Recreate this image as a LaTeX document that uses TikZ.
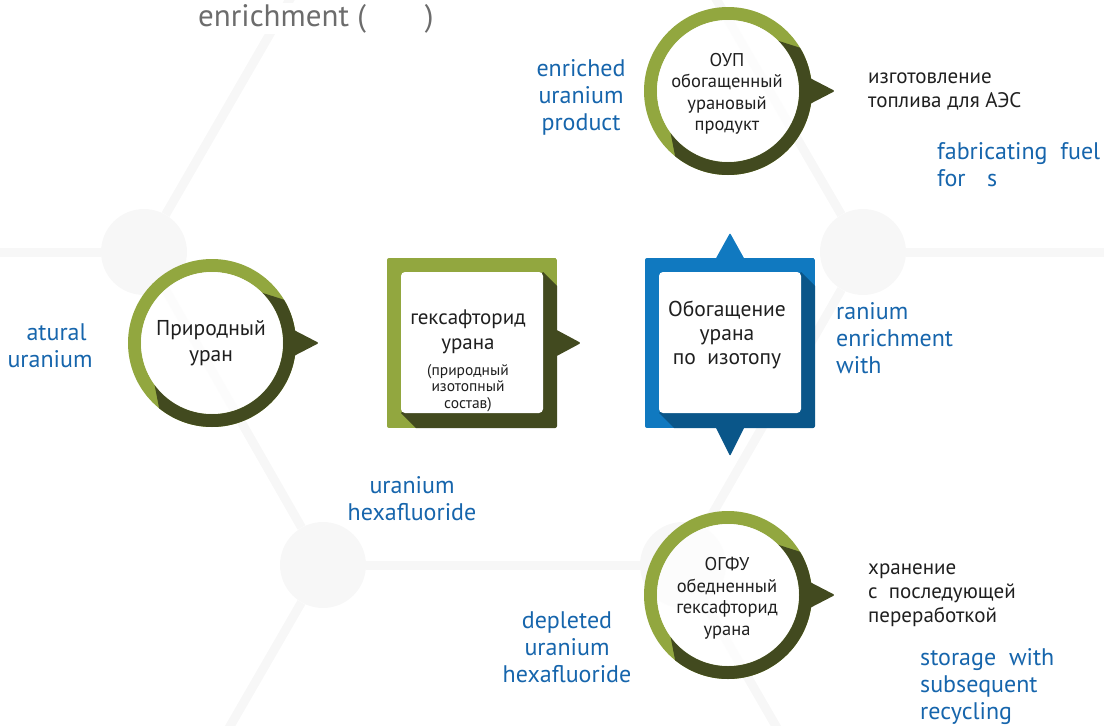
\documentclass[tikz,border=0pt]{standalone}
\usepackage{fontspec}
\setmainfont{PT Sans}
\usepackage{xcolor}
\usepackage{tikz}
\usetikzlibrary{positioning,calc}
\definecolor{lolv}{RGB}{146,167,63}
\definecolor{dolv}{RGB}{66,74,31}
\definecolor{lblu}{RGB}{16,121,192}
\definecolor{dblu}{RGB}{10,86,137}
\definecolor{tblu}{RGB}{22,101,172}
\definecolor{bgry}{RGB}{247,247,247}
\definecolor{tgry}{RGB}{108,108,108}

\begin{document}
\begin{tikzpicture}[x=1pt, y=-1pt, line join=bevel,
  hexline/.style={bgry, line width=9pt},
  hexdot/.style={circle, fill=bgry, minimum size=86pt, inner sep=0pt},
  ringtext/.style={align=center, inner sep=0pt, text=black!88, font=\fontsize{21.5}{26}\selectfont},
  smalltext/.style={align=center, inner sep=0pt, text=black!88, font=\fontsize{18.5}{21.5}\selectfont},
  sidetext/.style={align=left, inner sep=0pt, anchor=west, text=black!88, font=\fontsize{21}{24}\selectfont},
  engtext/.style={align=center, inner sep=0pt, text=tblu, font=\fontsize{24}{27}\selectfont}]

\useasboundingbox (0,0) rectangle (1104,726);
\clip (0,0) rectangle (1104,726);

%% background hexagon grid
\node[hexdot] (hxa) at (144,252) {};
\node[hexdot] (hxb) at (323,565) {};
\node[hexdot] (hxc) at (683,565) {};
\node[hexdot] (hxd) at (863,252) {};
\coordinate (hxaw) at (-20,252);
\coordinate (hxan) at (323,-58);
\coordinate (hxbs) at (143,877);
\coordinate (hxcs) at (863,877);
\coordinate (hxdn) at (683,-58);
\coordinate (hxde) at (1130,252);
\draw[hexline] (hxaw) -- (hxa);
\draw[hexline] (hxa) -- (hxan);
\draw[hexline] (hxa) -- (hxb);
\draw[hexline] (hxb) -- (hxbs);
\draw[hexline] (hxb) -- (hxc);
\draw[hexline] (hxc) -- (hxcs);
\draw[hexline] (hxc) -- (hxd);
\draw[hexline] (hxd) -- (hxdn);
\draw[hexline] (hxd) -- (hxde);

%% title at the top
\node[fill=white, inner sep=1pt, anchor=base west, text=tgry, font=\fontsize{31}{31}\selectfont] (enrt) at (197,26) {enrichment (\hspace{1.9em})};

%% circle -- natural uranium
\begin{scope}[shift={(212,343)}]
  \fill[lolv, even odd rule] (0,0) circle (84) (0,0) circle (71);
  \begin{scope}
    \clip (0,0) -- (-45:71) -- ($(-45:71)!2!(-31:84)$) -- (45:200) -- ($(144:71)!2!(129:84)$) -- (144:71) -- cycle;
    \fill[dolv, even odd rule] (0,0) circle (84) (0,0) circle (71);
  \end{scope}
  \fill[dolv, rounded corners=2pt] (78,-15) -- (107,0) -- (78,15) -- cycle;
  \fill[white, opacity=.75] (0,0) circle (71);
\end{scope}

%% circle -- enriched product
\begin{scope}[shift={(728,91)}]
  \fill[lolv, even odd rule] (0,0) circle (84) (0,0) circle (71);
  \begin{scope}
    \clip (0,0) -- (-45:71) -- ($(-45:71)!2!(-31:84)$) -- (45:200) -- ($(144:71)!2!(129:84)$) -- (144:71) -- cycle;
    \fill[dolv, even odd rule] (0,0) circle (84) (0,0) circle (71);
  \end{scope}
  \fill[dolv, rounded corners=2pt] (78,-15) -- (107,0) -- (78,15) -- cycle;
  \fill[white, opacity=.75] (0,0) circle (71);
\end{scope}

%% circle -- depleted hexafluoride
\begin{scope}[shift={(728,595)}]
  \fill[lolv, even odd rule] (0,0) circle (84) (0,0) circle (71);
  \begin{scope}
    \clip (0,0) -- (-45:71) -- ($(-45:71)!2!(-31:84)$) -- (45:200) -- ($(144:71)!2!(129:84)$) -- (144:71) -- cycle;
    \fill[dolv, even odd rule] (0,0) circle (84) (0,0) circle (71);
  \end{scope}
  \fill[dolv, rounded corners=2pt] (78,-15) -- (107,0) -- (78,15) -- cycle;
  \fill[white, opacity=.75] (0,0) circle (71);
\end{scope}

%% green box -- hexafluoride
\fill[dolv, rounded corners=2pt] (553,328) -- (581,343) -- (553,358) -- cycle;
\begin{scope}
  \clip[rounded corners=2pt] (387,258) rectangle (557,428);
  \fill[lolv] (387,258) rectangle (557,428);
  \fill[dolv] (543,272) -- (557,286) -- (557,428) -- (416,428) -- (401,413) -- cycle;
\end{scope}
\fill[white, rounded corners=4pt] (401,272) rectangle (543,413);

%% blue box -- enrichment
\fill[lblu, rounded corners=1pt] (715,260) -- (730,233) -- (745,260) -- cycle;
\fill[dblu, rounded corners=1pt] (715,426) -- (730,456) -- (745,426) -- cycle;
\begin{scope}
  \clip[rounded corners=2pt] (645,258) rectangle (815,428);
  \fill[lblu] (645,258) rectangle (815,428);
  \fill[dblu] (801,272) -- (815,286) -- (815,428) -- (674,428) -- (659,413) -- cycle;
\end{scope}
\fill[white, rounded corners=4pt] (659,272) rectangle (801,413);

%% russian texts
\node[ringtext] (natru) at (211,343) {Природный\\уран};
\node[smalltext] (oupru) at (727,94) {ОУП\\обогащенный\\урановый\\продукт};
\node[smalltext] (ogfuru) at (727,598) {ОГФУ\\обедненный\\гексафторид\\урана};
\node[ringtext, font=\fontsize{21}{25}\selectfont] (hexru) at (468,332) {гексафторид\\урана};
\node[align=center, inner sep=0pt, text=black!88, font=\fontsize{15.5}{16.5}\selectfont, below=10pt of hexru] (hexsub) {(природный\\изотопный\\состав)};
\node[ringtext, font=\fontsize{21.5}{24}\selectfont] (enrru) at (727,335) {Обогащение\\урана\\по\ \ изотопу};
\node[sidetext] (izgru) at (868,91) {изготовление\\топлива для АЭС};
\node[sidetext] (hraru) at (868,595) {хранение\\с\ \ последующей\\переработкой};

%% english texts
\node[engtext] (enren) at (581,97) {enriched\\uranium\\product};
\node[engtext, align=left, anchor=west] (faben) at (937,165) {fabricating\ \ fuel\\for\hspace{0.9em}s};
\node[engtext, align=left, anchor=west] (ranen) at (836,338) {ranium\\enrichment\\with};
\node[engtext] (naten) at (50,346) {\phantom{n}atural\\uranium};
\node[engtext] (hexen) at (412,499) {uranium\\hexafluoride};
\node[engtext] (depen) at (567,647) {depleted\\uranium\\hexafluoride};
\node[engtext, align=left, anchor=west] (stoen) at (920,687) {storage\ \ with\\subsequent\\recycling};

\end{tikzpicture}
\end{document}
